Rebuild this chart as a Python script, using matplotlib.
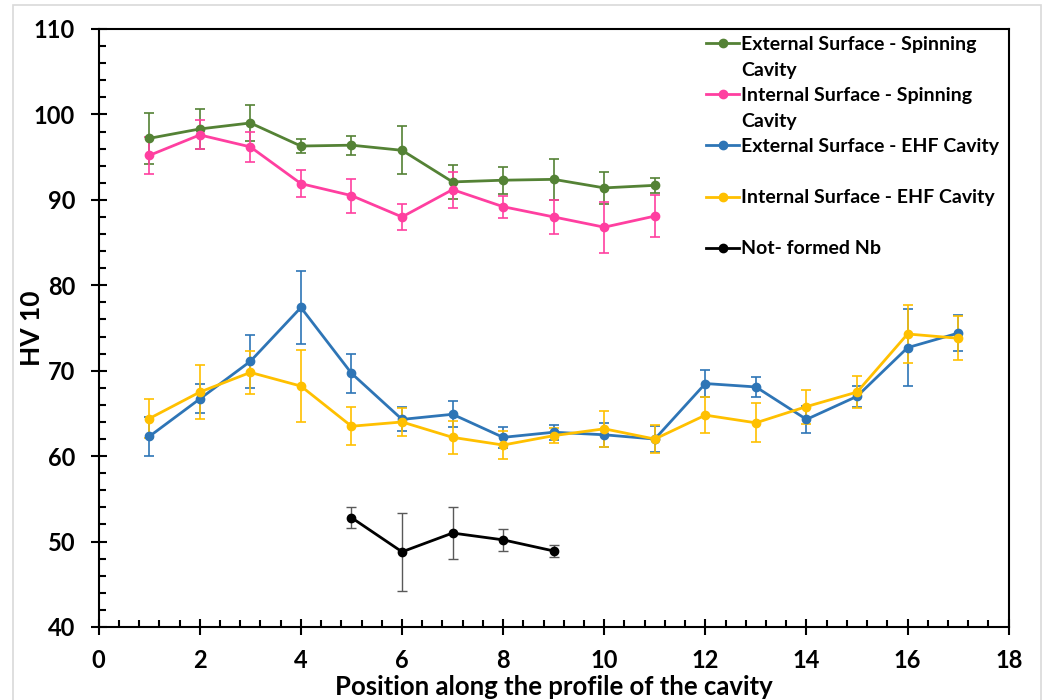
import matplotlib
matplotlib.use("Agg")
import matplotlib.pyplot as plt
from matplotlib.lines import Line2D
from matplotlib.patches import Rectangle
from matplotlib.ticker import MultipleLocator


# =========================
# Data
# =========================

x_spin = [1, 2, 3, 4, 5, 6, 7, 8, 9, 10, 11]
x_ehf = [1, 2, 3, 4, 5, 6, 7, 8, 9, 10, 11, 12, 13, 14, 15, 16, 17]
x_nb = [5, 6, 7, 8, 9]

ext_spin = [97.2, 98.3, 99.0, 96.3, 96.4, 95.8, 92.1, 92.3, 92.4, 91.4, 91.7]
ext_spin_err = [3.0, 2.3, 2.1, 0.8, 1.1, 2.8, 2.0, 1.6, 2.4, 1.9, 0.9]

int_spin = [95.2, 97.6, 96.2, 91.9, 90.5, 88.0, 91.2, 89.2, 88.0, 86.8, 88.1]
int_spin_err = [2.2, 1.7, 1.8, 1.6, 2.0, 1.5, 2.1, 1.3, 2.0, 3.0, 2.5]

ext_ehf = [62.3, 66.7, 71.1, 77.4, 69.7, 64.3, 64.9, 62.2, 62.8, 62.5, 62.0,
           68.5, 68.1, 64.3, 67.0, 72.7, 74.4]
ext_ehf_err = [2.3, 1.7, 3.1, 4.3, 2.3, 1.4, 1.5, 1.2, 0.9, 1.4, 1.5,
               1.6, 1.2, 1.6, 1.2, 4.5, 2.1]

int_ehf = [64.4, 67.5, 69.8, 68.2, 63.5, 64.0, 62.2, 61.3, 62.4, 63.2, 62.0,
           64.8, 63.9, 65.8, 67.5, 74.3, 73.8]
int_ehf_err = [2.3, 3.2, 2.5, 4.2, 2.2, 1.6, 1.9, 1.6, 0.9, 2.1, 1.6,
               2.1, 2.3, 2.0, 1.9, 3.4, 2.6]

not_formed = [52.8, 48.8, 51.0, 50.2, 48.9]
not_formed_err = [1.2, 4.6, 3.0, 1.3, 0.7]

legend_labels = [
    "External Surface - Spinning", "Cavity",
    "Internal Surface - Spinning", "Cavity",
    "External Surface - EHF Cavity", " ",
    "Internal Surface - EHF Cavity", " ",
    "Not- formed Nb",
]


# =========================
# Chart Design
# =========================

plt.rcParams["font.family"] = ["Lato", "DejaVu Sans"]
plt.rcParams["font.weight"] = "bold"

W, H = 1044, 700
fig = plt.figure(figsize=(W / 100, H / 100), dpi=100)
fig.patch.set_facecolor("white")

# light grey chart border
fig.patches.append(Rectangle((13 / W, -0.05), (1041 - 13) / W, 1.05 - 5 / H,
                             transform=fig.transFigure, fill=False,
                             edgecolor="#d9d9d9", linewidth=1.2, zorder=0))

left, right, top, bottom = 98.7, 1008.7, 29, 627
ax = fig.add_axes([left / W, 1 - bottom / H, (right - left) / W, (bottom - top) / H])


def draw(x, y, err, color, ecolor, elw=1.2):
    cont = ax.errorbar(x, y, yerr=err, color=color, ecolor=ecolor,
                       marker="o", markersize=6, linewidth=2.0,
                       elinewidth=elw, capsize=3.5, capthick=elw)
    return cont.lines[0]


h1 = draw(x_spin, ext_spin, ext_spin_err, "#548235", "#548235")
h2 = draw(x_spin, int_spin, int_spin_err, "#ff3fa0", "#ff3fa0")
h3 = draw(x_ehf, ext_ehf, ext_ehf_err, "#2e75b6", "#2e75b6")
h4 = draw(x_ehf, int_ehf, int_ehf_err, "#ffc000", "#ffc000")
h5 = draw(x_nb, not_formed, not_formed_err, "black", "#595959", elw=1.0)

ax.set_xlim(0, 18)
ax.set_ylim(40, 110)
ax.xaxis.set_major_locator(MultipleLocator(2))
ax.xaxis.set_minor_locator(MultipleLocator(0.4))
ax.yaxis.set_major_locator(MultipleLocator(10))
ax.yaxis.set_minor_locator(MultipleLocator(2))

ax.tick_params(which="major", direction="inout", length=12, width=1.5,
               labelsize=17, pad=11)
ax.tick_params(axis="x", which="major", pad=10)
ax.tick_params(which="minor", direction="in", length=5, width=1.5)
ax.tick_params(top=False, right=False, which="both")

for spine in ax.spines.values():
    spine.set_linewidth(1.5)
    spine.set_color("black")

ax.set_xlabel("Position along the profile of the cavity", fontsize=18.5,
              fontweight="bold")
ax.set_ylabel("HV 10", fontsize=19, fontweight="bold")
ax.xaxis.set_label_coords(0.5, -0.08)
ax.yaxis.set_label_coords(-0.06, 0.5)


# =========================
# Legend
# =========================

blank = Line2D([], [], color="none", linestyle="none")
handles = [h1, blank, h2, blank, h3, blank, h4, blank, h5]

ax.legend(handles, legend_labels, loc="upper left",
          bbox_to_anchor=(706 / W, 1 - 36 / H), bbox_transform=fig.transFigure,
          frameon=False, borderpad=0, borderaxespad=0,
          handlelength=1.7, handletextpad=0.12, labelspacing=0.44,
          prop={"size": 14, "weight": "bold"})


# =========================
# Save
# =========================

fig.savefig("out.png", dpi=100)
